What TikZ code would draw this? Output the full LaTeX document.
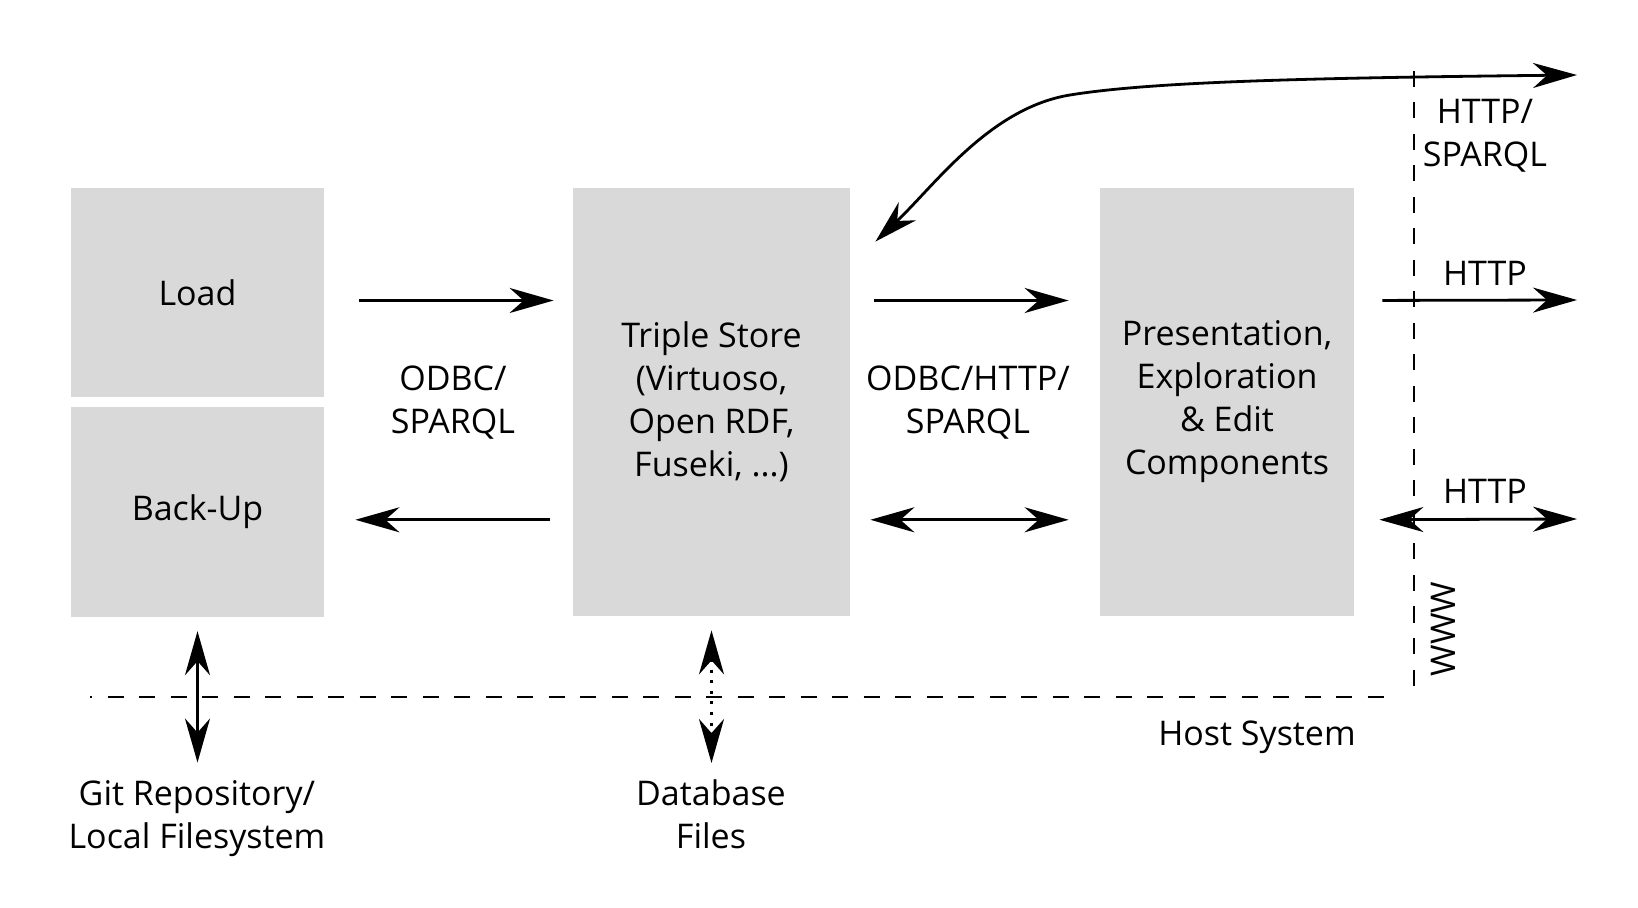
\documentclass[tikz,border=0pt]{standalone}
\usepackage{fontspec}
\setmainfont{Open Sans}
\usetikzlibrary{arrows.meta,positioning,calc}
\definecolor{boxgray}{RGB}{217,217,217}
\tikzset{
  box/.style={fill=boxgray,inner sep=0pt,align=center},
  lbl/.style={align=center,inner sep=0pt},
  arr/.style={-{Stealth[length=22pt,width=12.5pt,inset=7pt]},line width=1.4pt},
  dblarr/.style={{Stealth[length=22pt,width=12.5pt,inset=7pt]}-{Stealth[length=22pt,width=12.5pt,inset=7pt]},line width=1.4pt},
  border/.style={dash pattern=on 8pt off 7.75pt,line width=1.4pt}
}

\begin{document}
\begin{tikzpicture}[x=0.5pt,y=-0.5pt,font=\fontsize{17}{21.5}\selectfont]
    \useasboundingbox (0,0) rectangle (1638,908);
    % boxes
    \node (load) [box,minimum width=126.5pt,minimum height=104.5pt] at (197.5,292.5) {Load};
    \node (backup) [box,minimum width=126.5pt,minimum height=105pt,below=4.5pt of load] {Back-Up};
    \node (store) [box,minimum width=138.5pt,minimum height=214pt] at (711.5,402) {Triple Store\\(Virtuoso,\\Open RDF,\\Fuseki, ...)};
    \node (pres) [box,minimum width=127pt,minimum height=214pt] at (1227,402) {Presentation,\\Exploration\\\& Edit\\Components};
    % labels
    \node (odbc) [lbl] at (453,403) {ODBC/\\SPARQL};
    \node (odbchttp) [lbl] at (968,403) {ODBC/HTTP/\\SPARQL};
    \node (httpsparql) [lbl] at (1485,136) {HTTP/\\SPARQL};
    \node (httpa) [lbl] at (1485,273) {HTTP};
    \node (httpb) [lbl] at (1485,491) {HTTP};
    \node (www) [lbl,rotate=90] at (1443,629) {WWW};
    \node (host) [lbl] at (1257,737) {Host System};
    \node (git) [lbl] at (197,819) {Git Repository/\\Local Filesystem};
    \node (dbfiles) [lbl] at (711,814) {Database\\Files};
    % outside ends and borders
    \coordinate (outa) at (1577,75);
    \coordinate (outb) at (1577,300);
    \coordinate (outc) at (1577,519);
    \coordinate (wwwtop) at (1414,71);
    \coordinate (wwwbot) at (1414,687);
    \coordinate (hostl) at (90,697);
    \coordinate (hostr) at (1386,697);
    \draw[border] (wwwtop) -- (wwwbot);
    \draw[border,dash phase=7pt] (hostl) -- (hostr);
    % connectors
    \draw[arr,shorten <=17.5pt,shorten >=9.5pt] ($(load.east)+(0,8)$) -- ($(load.east -| store.west)+(0,8)$);
    \draw[arr,shorten <=11.5pt,shorten >=15.5pt] ($(backup.east -| store.west)+(0,8)$) -- ($(backup.east)+(0,8)$);
    \draw[arr,shorten <=12pt,shorten >=15.5pt] ($(load.east -| store.east)+(0,8)$) -- ($(load.east -| pres.west)+(0,8)$);
    \draw[dblarr,shorten <=10pt,shorten >=15.5pt] ($(backup.east -| store.east)+(0,8)$) -- ($(backup.east -| pres.west)+(0,8)$);
    \draw[arr,shorten <=14pt] ($(load.east -| pres.east)+(0,8)$) -- (outb);
    \draw[dblarr,shorten <=12.5pt] ($(backup.east -| pres.east)+(0,8)$) -- (outc);
    \draw[dblarr] (outa) .. controls (1300,78) and (1150,82) .. (1070,95)
        .. controls (990,108) and (935,185) .. ($(store.north east)+(25,54)$);
    \draw[dblarr,shorten <=7pt,shorten >=9pt] (backup.south) -- (backup.south |- git.north);
    \draw[dblarr,dash pattern=on 1.5pt off 3.8pt,shorten <=7pt,shorten >=8pt] (store.south) -- (store.south |- dbfiles.north);
\end{tikzpicture}
\end{document}
